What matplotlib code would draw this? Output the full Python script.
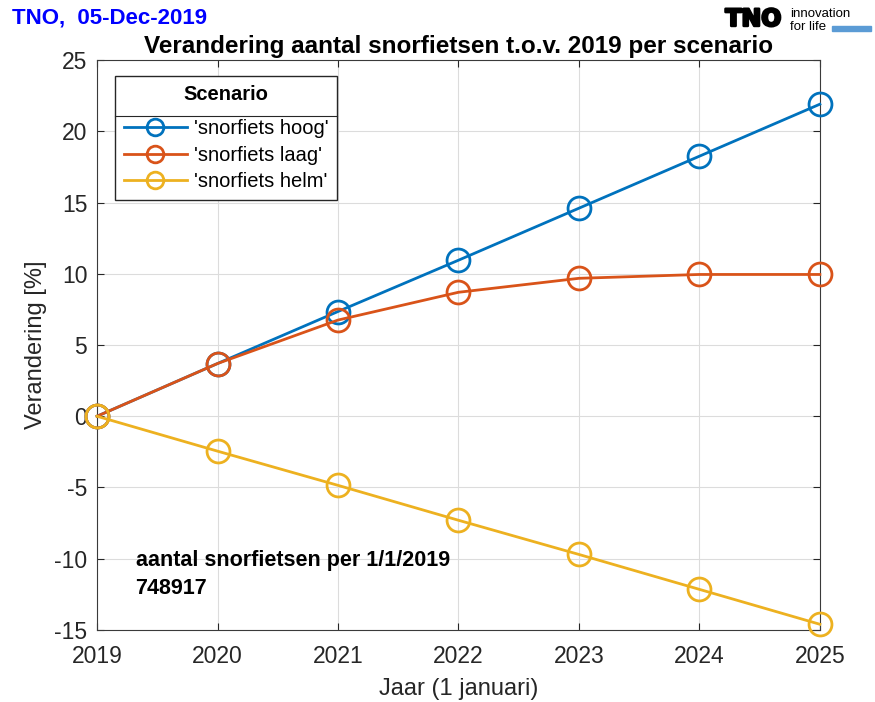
import numpy as np
import matplotlib.pyplot as plt
import matplotlib.patheffects as pe
from matplotlib.lines import Line2D
from matplotlib.patches import Rectangle

plt.rcParams['font.family'] = ['Liberation Sans', 'DejaVu Sans']
plt.rcParams['axes.unicode_minus'] = False

jaren = [2019, 2020, 2021, 2022, 2023, 2024, 2025]
hoog = [0, 3.7, 7.35, 10.95, 14.6, 18.25, 21.9]
laag = [0, 3.7, 6.75, 8.7, 9.68, 9.95, 9.95]
helm = [0, -2.45, -4.85, -7.3, -9.7, -12.15, -14.6]
namen = ["'snorfiets hoog'", "'snorfiets laag'", "'snorfiets helm'"]
kleuren = ['#0072BD', '#D95319', '#EDB120']

fig = plt.figure(figsize=(8.75, 7.02), dpi=100)
ax = fig.add_axes([0.1109, 0.1026, 0.8261, 0.8119])

handles = []
for y, naam, kl in zip([hoog, laag, helm], namen, kleuren):
    ax.plot(jaren, y, color=kl, lw=2, marker='o', ms=16.5, mfc='none',
            mew=2, clip_on=False, zorder=3)
    handles.append(Line2D([], [], color=kl, lw=2, marker='o', ms=12,
                          mfc='none', mew=2, label=naam))

ax.set_xlim(2019, 2025)
ax.set_ylim(-15, 25)
ax.set_xticks(jaren)
ax.set_yticks(np.arange(-15, 26, 5))
ax.grid(True, color='#dcdcdc', lw=0.8)
ax.set_axisbelow(True)
for s in ax.spines.values():
    s.set_color('#3a3a3a')
    s.set_linewidth(0.8)
ax.tick_params(direction='in', top=True, right=True, labelsize=16.5,
               colors='#262626', length=5)
ax.tick_params(axis='x', pad=11)
ax.tick_params(axis='y', pad=7)
ax.set_xlabel('Jaar (1 januari)', fontsize=17, color='#262626', labelpad=7)
ax.set_ylabel('Verandering [%]', fontsize=17, color='#262626', labelpad=5)
ax.set_title('Verandering aantal snorfietsen t.o.v. 2019 per scenario',
             fontsize=17.5, fontweight='bold', pad=5)

leg = ax.legend(handles=handles, loc='upper left',
                bbox_to_anchor=(0.025, 0.972), title='Scenario',
                fontsize=14.5, fancybox=False, edgecolor='#262626',
                framealpha=1, handlelength=3.1, handletextpad=0.35,
                borderpad=0.45, labelspacing=0.36, borderaxespad=0)
leg.get_title().set_fontweight('bold')
leg.get_title().set_fontsize(14.5)
leg._legend_box.sep = 11

ax.text(2019.32, -11.1, 'aantal snorfietsen per 1/1/2019\n748917', fontsize=15.5,
        fontweight='bold', va='center', linespacing=1.4)

# separator under the legend title
fig.canvas.draw()
r = fig.canvas.get_renderer()
lb = leg.get_frame().get_window_extent(r)
rij = leg.get_texts()[0].get_window_extent(r)
inv = fig.transFigure.inverted()
ysep = rij.y1 + 3
x0, y0 = inv.transform((lb.x0, ysep))
x1, _ = inv.transform((lb.x1, ysep))
fig.add_artist(Line2D([x0, x1], [y0, y0], color='#262626', lw=0.8,
                      transform=fig.transFigure, zorder=10))

fig.text(0.014, 0.974, 'TNO,  05-Dec-2019', color='#0000ff', fontsize=16,
         fontweight='bold', va='center')
fig.text(0.829, 0.973, 'TNO', fontsize=17, fontweight='heavy', va='center',
         family='DejaVu Sans',
         path_effects=[pe.withStroke(linewidth=1.8, foreground='black')])
fig.text(0.903, 0.980, 'innovation', fontsize=9.5, va='center')
fig.text(0.903, 0.961, 'for life', fontsize=9.5, va='center')
fig.add_artist(Rectangle((0.951, 0.956), 0.044, 0.007, color='#5b9bd5',
                         transform=fig.transFigure))

fig.savefig('out.png', dpi=100)
